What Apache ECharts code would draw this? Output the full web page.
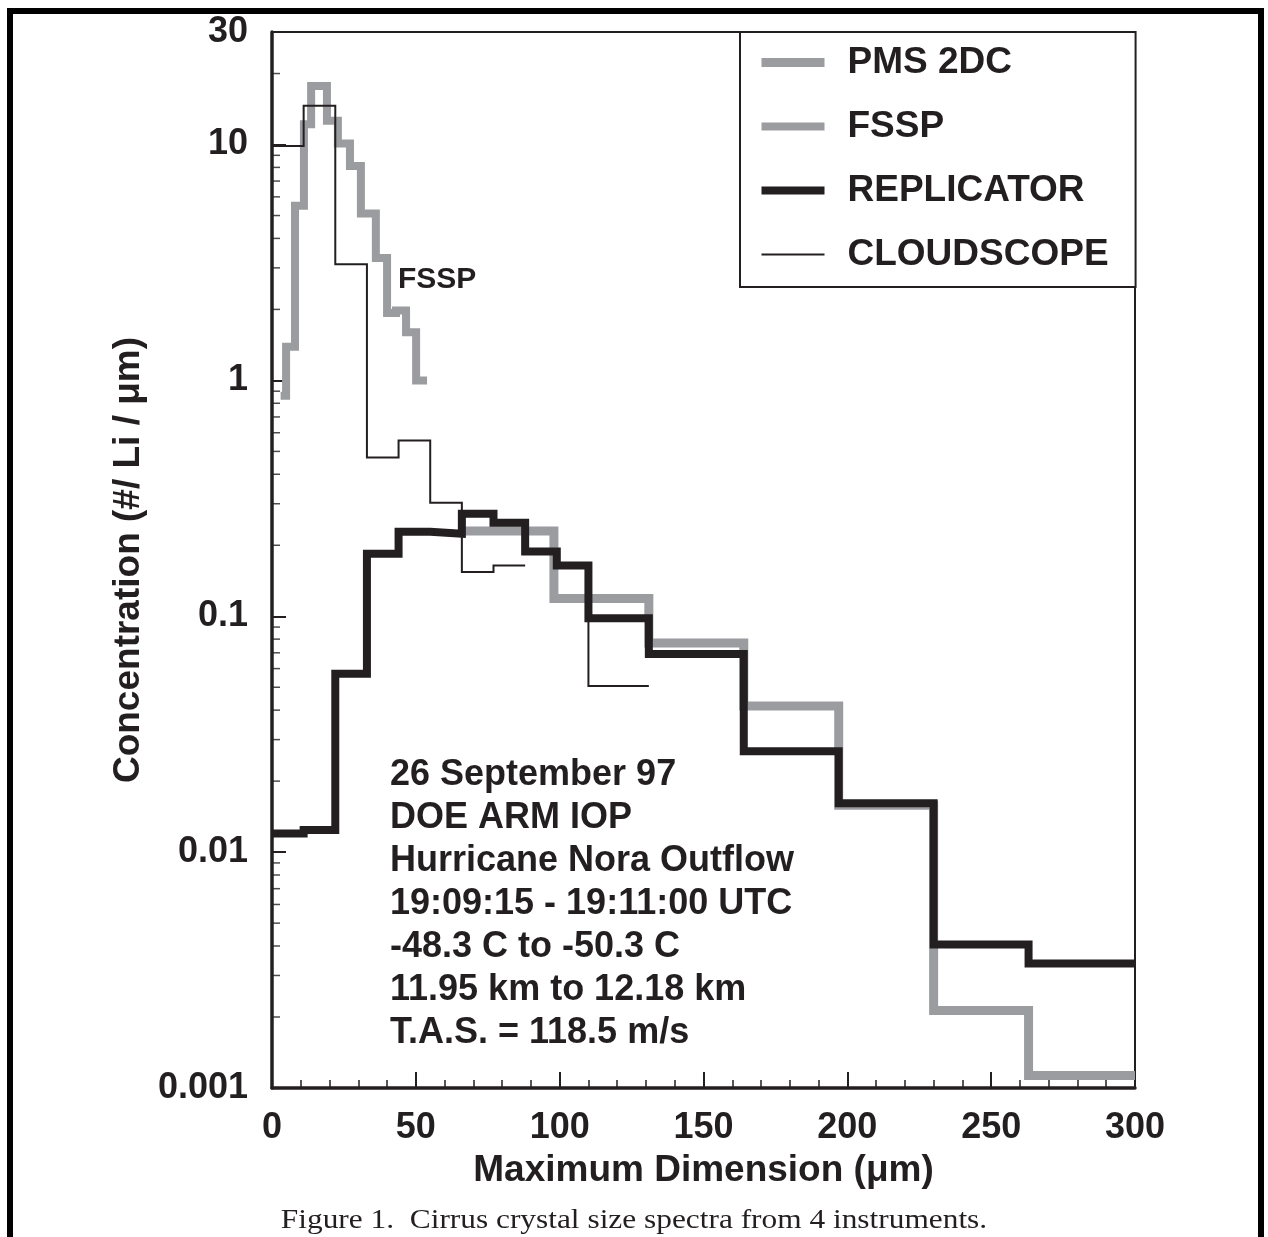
<!DOCTYPE html>
<html>
<head>
<meta charset="utf-8">
<title>Cirrus crystal size spectra</title>
<script src="https://cdn.jsdelivr.net/npm/echarts@6/dist/echarts.min.js"></script>
<style>
    html, body { margin: 0; padding: 0; background: #fff; }
    #chart { width: 1268px; height: 1237px; }
</style>
</head>
<body>
<div id="chart"></div>
<script>
// bin edges (um) and concentrations (#/L/um)
var pmsEdges = [65, 98, 131, 164, 197, 230, 263, 300];
var pmsValues = [0.23, 0.119, 0.077, 0.0416, 0.0158, 0.00213, 0.00113];

var fsspEdges = [3, 4.9, 8.0, 11.1, 13.6, 19.1, 22.9, 27.1, 30.9, 36.1, 40.0, 43.1, 46.6, 50.1, 53.9];
var fsspValues = [0.86, 1.39, 5.5, 12.2, 17.7, 12.6, 10.1, 8.1, 5.1, 3.3, 1.93, 1.98, 1.6, 1.0];

var replEdges = [0, 11, 22, 33, 44, 55, 66, 77, 88, 99, 110, 131, 164, 197, 230, 263, 300];
var replValues = [0.0120, 0.0124, 0.057, 0.184, 0.228, 0.224, 0.272, 0.249, 0.188, 0.164, 0.098, 0.0692, 0.0268, 0.0161, 0.00406, 0.00337];

var cloudEdges = [0, 11, 22, 33, 44, 55, 66, 77, 88];
var cloudValues = [9.86, 14.6, 3.11, 0.471, 0.556, 0.303, 0.154, 0.164];
var cloudEdges2 = [110, 110, 131];
var cloudValues2 = [0.098, 0.0506];

var xTicks = [0, 50, 100, 150, 200, 250, 300];
var yMinorTicks = [0.002, 0.003, 0.004, 0.005, 0.006, 0.007, 0.008, 0.009,
    0.02, 0.03, 0.04, 0.05, 0.06, 0.07, 0.08, 0.09,
    0.2, 0.3, 0.4, 0.5, 0.6, 0.7, 0.8, 0.9,
    2, 3, 4, 5, 6, 7, 8, 9, 20];

var infoLines = ['26 September 97', 'DOE ARM IOP', 'Hurricane Nora Outflow',
    '19:09:15 - 19:11:00 UTC', '-48.3 C to -50.3 C', '11.95 km to 12.18 km', 'T.A.S. = 118.5 m/s'];

var INK = '#231f20';
var GREY = '#9b9c9f';
var FONT = '"Liberation Sans", Arial, Helvetica, sans-serif';

function stepPoints(edges, values) {
    var pts = [];
    for (var i = 0; i < values.length; i++) {
        pts.push([edges[i], values[i]]);
    }
    pts.push([edges[edges.length - 1], values[values.length - 1]]);
    return pts;
}

function stepSeries(name, edges, values, color, width) {
    return {
        name: name,
        type: 'line',
        step: 'end',
        symbol: 'none',
        data: stepPoints(edges, values),
        lineStyle: {color: color, width: width, join: 'miter', cap: 'butt'},
        itemStyle: {color: color},
        emphasis: {disabled: true},
        animation: false
    };
}

var myChart = echarts.init(document.getElementById('chart'));
var option = {
    backgroundColor: '#fff',
    animation: false,
    textStyle: {fontFamily: FONT, color: INK},
    grid: {
        left: 272, top: 32, right: 133, bottom: 149,
        show: true, borderColor: INK, borderWidth: 2
    },
    legend: {
        data: ['PMS 2DC', 'FSSP', 'REPLICATOR', 'CLOUDSCOPE'],
        orient: 'vertical',
        left: 740,
        top: 32,
        padding: [12, 27, 14, 17],
        itemGap: 27,
        itemWidth: 63,
        itemHeight: 14,
        backgroundColor: '#fff',
        borderColor: INK,
        borderWidth: 2,
        selectedMode: false,
        itemStyle: {opacity: 0},
        lineStyle: {width: 'inherit', cap: 'butt'},
        textStyle: {
            fontFamily: FONT, fontWeight: 'bold', fontSize: 37, color: INK,
            padding: [0, 0, 0, 18]
        }
    },
    xAxis: {
        type: 'value',
        min: 0,
        max: 300,
        interval: 50,
        name: 'Maximum Dimension (\u03bcm)',
        nameLocation: 'middle',
        nameGap: 64,
        nameTextStyle: {fontFamily: FONT, fontWeight: 'bold', fontSize: 37, color: INK},
        axisLine: {lineStyle: {color: INK, width: 3.5}},
        axisTick: {inside: true, length: 16, lineStyle: {color: INK, width: 2}},
        minorTick: {show: true, splitNumber: 5, length: 8, lineStyle: {color: INK, width: 1.5}},
        splitLine: {show: false},
        axisLabel: {
            margin: 22, fontFamily: FONT, fontWeight: 'bold', fontSize: 36, color: INK,
            customValues: xTicks
        }
    },
    yAxis: {
        type: 'log',
        logBase: 10,
        min: 0.001,
        max: 30,
        name: 'Concentration (#/ Li / \u03bcm)',
        nameLocation: 'middle',
        nameGap: 124,
        nameRotate: 90,
        nameTextStyle: {fontFamily: FONT, fontWeight: 'bold', fontSize: 37, color: INK},
        axisLine: {lineStyle: {color: INK, width: 3.5}},
        axisTick: {inside: true, length: 14, lineStyle: {color: INK, width: 2}},
        splitLine: {show: false},
        axisLabel: {
            margin: 24, fontFamily: FONT, fontWeight: 'bold', fontSize: 36, color: INK,
            showMaxLabel: true,
            formatter: function (v) {
                return String(+Number(v).toPrecision(2));
            }
        }
    },
    graphic: [
        {
            type: 'rect',
            shape: {x: 10, y: 11, width: 1251, height: 1300},
            style: {fill: 'none', stroke: '#000', lineWidth: 6},
            silent: true
        },
        {
            type: 'text',
            left: 390,
            top: 754,
            style: {
                text: infoLines.join('\n'),
                font: 'bold 36px ' + FONT,
                lineHeight: 43,
                fill: INK
            },
            silent: true
        },
        {
            type: 'text',
            x: 398,
            y: 280,
            style: {
                text: 'FSSP',
                font: 'bold 30px ' + FONT,
                verticalAlign: 'middle',
                fill: INK
            },
            silent: true
        },
        {
            type: 'text',
            x: 634,
            y: 1221,
            scaleX: 1.12,
            style: {
                text: 'Figure 1.  Cirrus crystal size spectra from 4 instruments.',
                font: '28px "Liberation Serif", "Times New Roman", serif',
                align: 'center',
                verticalAlign: 'middle',
                fill: INK
            },
            silent: true
        }
    ],
    series: [
        stepSeries('PMS 2DC', pmsEdges, pmsValues, GREY, 9),
        stepSeries('FSSP', fsspEdges, fsspValues, GREY, 8),
        stepSeries('REPLICATOR', replEdges, replValues, INK, 8),
        stepSeries('CLOUDSCOPE', cloudEdges, cloudValues, INK, 2),
        stepSeries('CLOUDSCOPE', cloudEdges2, cloudValues2, INK, 2),
        {
            // minor log ticks on the y axis (2..9 per decade)
            name: 'minor',
            type: 'scatter',
            symbol: 'rect',
            symbolSize: [8, 1.5],
            symbolOffset: [4, 0],
            clip: false,
            silent: true,
            itemStyle: {color: INK},
            data: yMinorTicks.map(function (v) { return [0, v]; }),
            z: 1
        }
    ]
};
myChart.setOption(option);
</script>
</body>
</html>
